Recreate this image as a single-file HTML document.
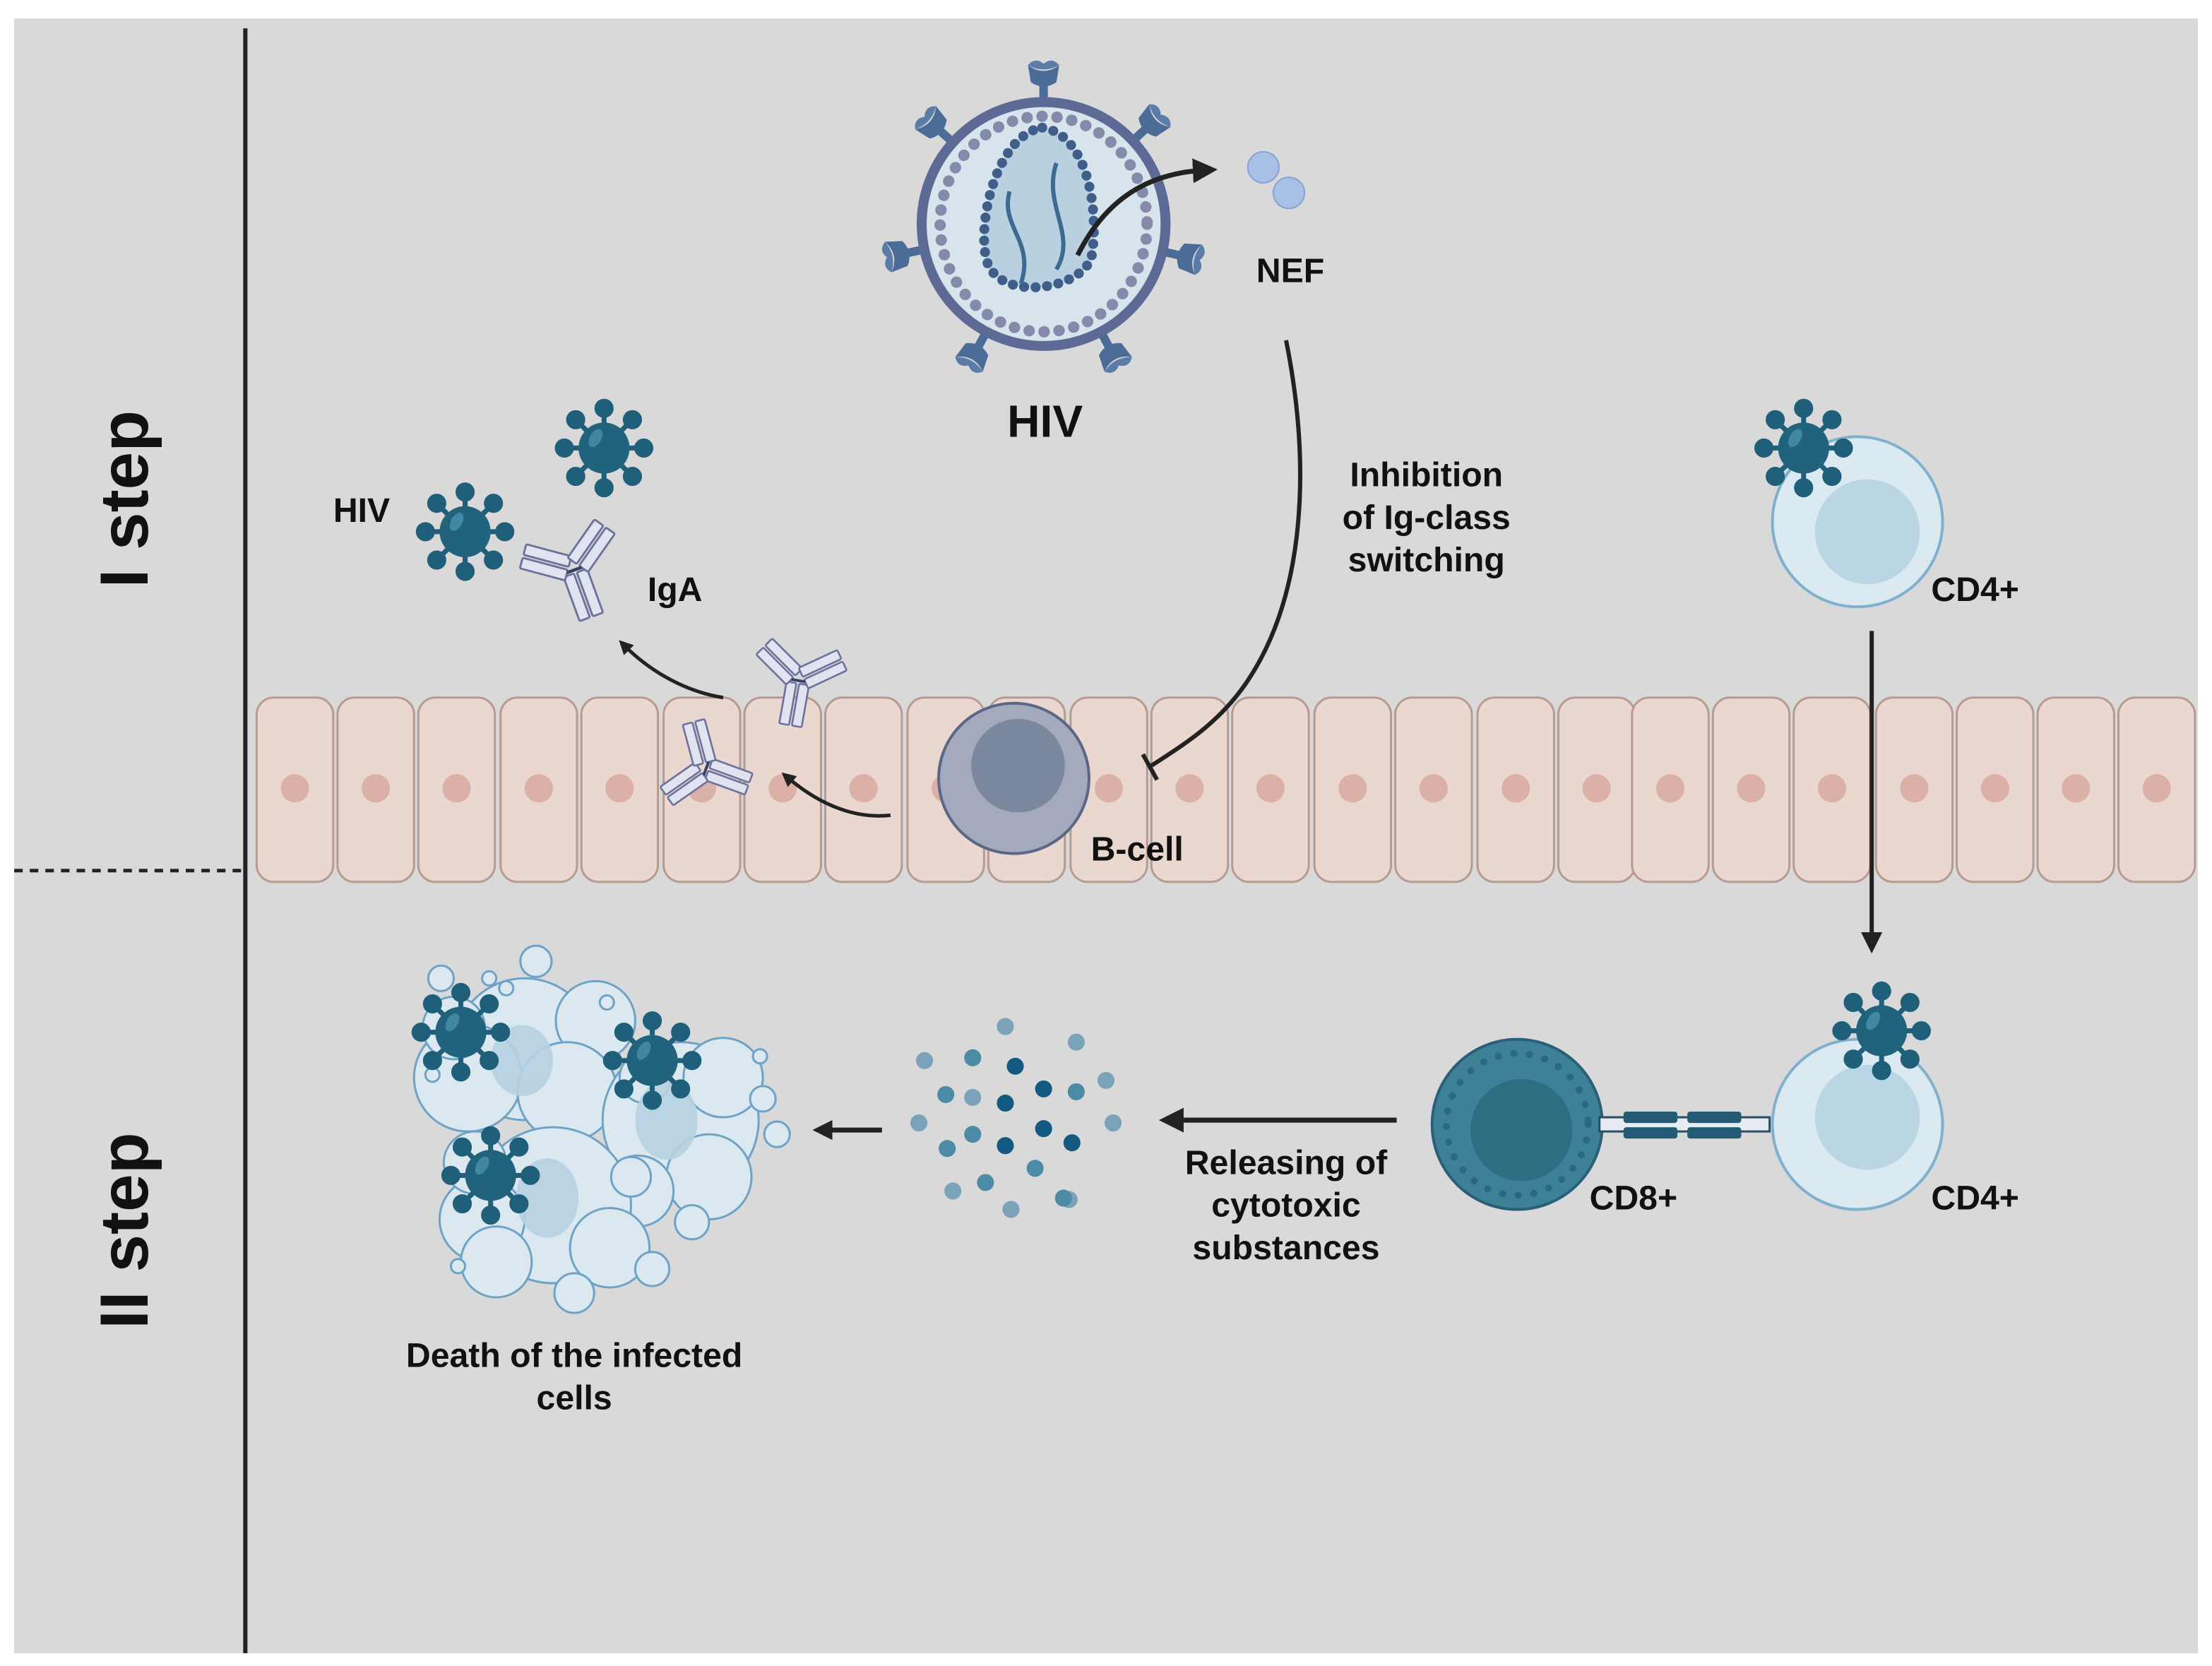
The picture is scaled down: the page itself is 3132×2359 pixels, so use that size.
<!DOCTYPE html>
<html><head><meta charset="utf-8"><style>
html,body{margin:0;padding:0;background:#fff}
svg{display:block}
text{font-family:"Liberation Sans",sans-serif;font-weight:bold;fill:#111}
</style></head><body>
<svg width="3132" height="2359" viewBox="0 0 1560 1175" xmlns="http://www.w3.org/2000/svg">
<defs>
<g id="vir">
 <g stroke="#1f5f7a" stroke-width="3.5" fill="#1f5f7a">
  <line x1="0" y1="0" x2="0" y2="-28"/><circle cx="0" cy="-28" r="5"/>
  <line x1="0" y1="0" x2="20" y2="-20"/><circle cx="20" cy="-20" r="5"/>
  <line x1="0" y1="0" x2="28" y2="0"/><circle cx="28" cy="0" r="5"/>
  <line x1="0" y1="0" x2="20" y2="20"/><circle cx="20" cy="20" r="5"/>
  <line x1="0" y1="0" x2="0" y2="28"/><circle cx="0" cy="28" r="5"/>
  <line x1="0" y1="0" x2="-20" y2="20"/><circle cx="-20" cy="20" r="5"/>
  <line x1="0" y1="0" x2="-28" y2="0"/><circle cx="-28" cy="0" r="5"/>
  <line x1="0" y1="0" x2="-20" y2="-20"/><circle cx="-20" cy="-20" r="5"/>
 </g>
 <circle r="18" fill="#21627d"/>
 <ellipse cx="-6" cy="-7" rx="4" ry="7" fill="#3f87a3" transform="rotate(30 -6 -7)"/>
</g>
<g id="spk">
 <rect x="-3" y="-100" width="6" height="22" fill="#4a6c96"/>
 <path d="M-11,-112 Q0,-104 11,-112 L9,-100 Q0,-94 -9,-100z" fill="#4a6c96"/>
 <path d="M-11,-112 Q-6,-118 0,-113 Q6,-118 11,-112 Q0,-106 -11,-112z" fill="#5a7ca6"/>
</g>
<g id="ab" fill="#e1e4f0" stroke="#6b739c" stroke-width="1.3">
 <rect x="-8" y="2" width="7" height="30" rx="1"/><rect x="1" y="2" width="7" height="30" rx="1"/>
 <g transform="rotate(-55)"><rect x="-8" y="-34" width="7" height="30" rx="1"/><rect x="1" y="-34" width="7" height="30" rx="1"/></g>
 <g transform="rotate(55)"><rect x="-8" y="-34" width="7" height="30" rx="1"/><rect x="1" y="-34" width="7" height="30" rx="1"/></g>
 <line x1="-5" y1="0" x2="5" y2="0" stroke="#3a4060" stroke-width="2"/>
</g>
<g id="cell">
 <rect x="-27" y="0" width="54" height="130" rx="12" fill="#ead7d0" stroke="#b79a90" stroke-width="1.5"/>
 <circle cx="0" cy="64" r="10" fill="#dbb0a6"/>
</g>
<marker id="ah" viewBox="0 0 10 10" refX="5" refY="5" markerWidth="5" markerHeight="5" orient="auto"><path d="M0,0L10,5L0,10z" fill="#222"/></marker>
<marker id="ah2" viewBox="0 0 10 10" refX="5" refY="5" markerWidth="4" markerHeight="4" orient="auto"><path d="M0,0L10,5L0,10z" fill="#222"/></marker>
</defs>
<rect x="10" y="13" width="1540" height="1153" fill="#d9d9d9"/>
<line x1="173" y1="20" x2="173" y2="1166" stroke="#222" stroke-width="3"/>
<line x1="10" y1="614" x2="173" y2="614" stroke="#222" stroke-width="2.5" stroke-dasharray="6,5"/>
<text transform="translate(104,352) rotate(-90)" font-size="48" text-anchor="middle">I step</text>
<text transform="translate(104,868) rotate(-90)" font-size="48" text-anchor="middle">II step</text>

<g>
<use href="#cell" x="208" y="492"/><use href="#cell" x="265" y="492"/><use href="#cell" x="322" y="492"/><use href="#cell" x="380" y="492"/><use href="#cell" x="437" y="492"/><use href="#cell" x="495" y="492"/><use href="#cell" x="552" y="492"/><use href="#cell" x="609" y="492"/><use href="#cell" x="667" y="492"/><use href="#cell" x="724" y="492"/><use href="#cell" x="782" y="492"/><use href="#cell" x="839" y="492"/><use href="#cell" x="896" y="492"/><use href="#cell" x="954" y="492"/><use href="#cell" x="1011" y="492"/><use href="#cell" x="1069" y="492"/><use href="#cell" x="1126" y="492"/><use href="#cell" x="1178" y="492"/><use href="#cell" x="1235" y="492"/><use href="#cell" x="1292" y="492"/><use href="#cell" x="1350" y="492"/><use href="#cell" x="1407" y="492"/><use href="#cell" x="1464" y="492"/><use href="#cell" x="1521" y="492"/>
</g>

<g>
 <g transform="translate(736,158)">
  <use href="#spk" transform="rotate(0)"/>
  <use href="#spk" transform="rotate(-48)"/>
  <use href="#spk" transform="rotate(47)"/>
  <use href="#spk" transform="rotate(-102)"/>
  <use href="#spk" transform="rotate(103)"/>
  <use href="#spk" transform="rotate(-152)"/>
  <use href="#spk" transform="rotate(152)"/>
 </g>
 <ellipse cx="736" cy="158" rx="86" ry="86" fill="#d8e4ec" stroke="#5d6a96" stroke-width="7"/>
 <ellipse cx="736" cy="158" rx="73" ry="76" fill="none" stroke="#8589aa" stroke-width="8" stroke-dasharray="0.1,10.5" stroke-linecap="round"/>
 <path d="M735,90 C768,95 775,150 770,180 C765,205 700,215 695,180 C690,150 705,95 735,90z" fill="#b8d0e0" stroke="#3f5f8a" stroke-width="7" stroke-dasharray="0.1,8" stroke-linecap="round"/>
 <path d="M712,135 C705,160 730,170 720,200" fill="none" stroke="#3d6b90" stroke-width="3"/>
 <path d="M745,115 C735,145 760,165 745,190" fill="none" stroke="#3d6b90" stroke-width="3"/>
</g>
<path d="M760,180 C780,140 810,122 850,120" fill="none" stroke="#222" stroke-width="3.5" marker-end="url(#ah)"/>
<circle cx="891" cy="118" r="11" fill="#a8bfe6" stroke="#8aa2d2"/>
<circle cx="909" cy="136" r="11" fill="#a8bfe6" stroke="#8aa2d2"/>
<text x="910" y="199" font-size="24" text-anchor="middle">NEF</text>
<text x="737" y="308" font-size="32" text-anchor="middle">HIV</text>

<path d="M907,240 C925,330 920,420 880,480 C860,510 835,525 812,540" fill="none" stroke="#222" stroke-width="3"/>
<line x1="806" y1="532" x2="816" y2="550" stroke="#222" stroke-width="3"/>
<text font-size="24" text-anchor="middle"><tspan x="1006" y="343">Inhibition</tspan><tspan x="1006" y="373">of Ig-class</tspan><tspan x="1006" y="403">switching</tspan></text>

<circle cx="715" cy="549" r="53" fill="#a4aabd" stroke="#5c6685" stroke-width="2"/>
<circle cx="718" cy="540" r="33" fill="#7c889e"/>
<text x="802" y="607" font-size="24" text-anchor="middle">B-cell</text>

<path d="M628,575 C600,578 575,565 555,548" fill="none" stroke="#222" stroke-width="2.5" marker-end="url(#ah2)"/>
<path d="M510,492 C485,488 460,475 440,455" fill="none" stroke="#222" stroke-width="2.5" marker-end="url(#ah2)"/>
<use href="#ab" transform="translate(563,480) rotate(10)"/>
<use href="#ab" transform="translate(498,542) rotate(-70)"/>
<use href="#vir" x="328" y="375"/>
<use href="#vir" x="426" y="316"/>
<use href="#ab" transform="translate(405,402) rotate(-20) scale(1.1)"/>
<text x="255" y="368" font-size="24" text-anchor="middle">HIV</text>
<text x="476" y="424" font-size="24" text-anchor="middle">IgA</text>

<circle cx="1310" cy="368" r="60" fill="#dbe9f1" stroke="#7fb1cf" stroke-width="2"/>
<circle cx="1317" cy="375" r="37" fill="#bad5e4"/>
<use href="#vir" x="1272" y="316"/>
<text x="1393" y="424" font-size="24" text-anchor="middle">CD4+</text>
<line x1="1320" y1="445" x2="1320" y2="665" stroke="#222" stroke-width="3" marker-end="url(#ah)"/>

<circle cx="1310" cy="793" r="60" fill="#dbe9f1" stroke="#7fb1cf" stroke-width="2"/>
<circle cx="1317" cy="788" r="37" fill="#bad5e4"/>
<use href="#vir" x="1327" y="727"/>
<text x="1393" y="853" font-size="24" text-anchor="middle">CD4+</text>
<circle cx="1070" cy="793" r="60" fill="#3e8197" stroke="#2a5f78" stroke-width="2"/>
<circle cx="1073" cy="797" r="36" fill="#2e6d82"/>
<circle cx="1070" cy="793" r="50" fill="none" stroke="#2a6a80" stroke-width="5" stroke-dasharray="0.1,11" stroke-linecap="round"/>
<g fill="#e7ecf2" stroke="#2a4d60" stroke-width="1.5">
 <rect x="1128" y="788" width="120" height="10"/>
</g>
<g fill="#245a74">
 <rect x="1145" y="784" width="38" height="8" rx="2"/><rect x="1145" y="795" width="38" height="8" rx="2"/>
 <rect x="1190" y="784" width="38" height="8" rx="2"/><rect x="1190" y="795" width="38" height="8" rx="2"/>
</g>
<text x="1152" y="853" font-size="24" text-anchor="middle">CD8+</text>

<line x1="985" y1="790" x2="826" y2="790" stroke="#222" stroke-width="3.5" marker-end="url(#ah)"/>
<text font-size="24" text-anchor="middle"><tspan x="907" y="828">Releasing of</tspan><tspan x="907" y="858">cytotoxic</tspan><tspan x="907" y="888">substances</tspan></text>

<g fill="#7aa2b8">
<circle cx="709" cy="724" r="6"/><circle cx="759" cy="735" r="6"/><circle cx="652" cy="748" r="6"/><circle cx="780" cy="762" r="6"/><circle cx="648" cy="792" r="6"/><circle cx="785" cy="792" r="6"/><circle cx="672" cy="840" r="6"/><circle cx="713" cy="853" r="6"/><circle cx="686" cy="774" r="6"/><circle cx="754" cy="846" r="6"/>
</g>
<g fill="#4d8aa6">
<circle cx="686" cy="746" r="6"/><circle cx="667" cy="772" r="6"/><circle cx="759" cy="770" r="6"/><circle cx="686" cy="800" r="6"/><circle cx="668" cy="810" r="6"/><circle cx="730" cy="824" r="6"/><circle cx="695" cy="834" r="6"/><circle cx="750" cy="845" r="6"/>
</g>
<g fill="#145a80">
<circle cx="716" cy="752" r="6"/><circle cx="736" cy="768" r="6"/><circle cx="709" cy="778" r="6"/><circle cx="736" cy="796" r="6"/><circle cx="709" cy="808" r="6"/><circle cx="756" cy="806" r="6"/>
</g>
<line x1="622" y1="797" x2="580" y2="797" stroke="#222" stroke-width="3.5" marker-end="url(#ah2)"/>

<g fill="#dbe8f0" stroke="#6fa3c6" stroke-width="1.5">
 <circle cx="370" cy="740" r="50"/><circle cx="330" cy="760" r="38"/><circle cx="420" cy="720" r="28"/><circle cx="400" cy="770" r="35"/>
 <circle cx="480" cy="790" r="55"/><circle cx="510" cy="760" r="28"/><circle cx="500" cy="830" r="30"/><circle cx="450" cy="840" r="25"/>
 <circle cx="390" cy="850" r="55"/><circle cx="340" cy="860" r="30"/><circle cx="350" cy="890" r="25"/><circle cx="430" cy="880" r="28"/>
 <circle cx="320" cy="725" r="22"/><circle cx="335" cy="820" r="22"/>
 <circle cx="311" cy="690" r="9"/><circle cx="345" cy="690" r="5"/><circle cx="357" cy="697" r="5"/><circle cx="378" cy="678" r="11"/><circle cx="428" cy="707" r="5"/>
 <circle cx="548" cy="800" r="9"/><circle cx="538" cy="775" r="9"/><circle cx="536" cy="745" r="5"/><circle cx="305" cy="758" r="5"/>
 <circle cx="405" cy="912" r="14"/><circle cx="488" cy="862" r="12"/><circle cx="323" cy="893" r="5"/><circle cx="460" cy="895" r="12"/><circle cx="455" cy="760" r="18"/><circle cx="445" cy="830" r="14"/>
</g>
<g fill="#b7d1e1" opacity="0.9">
 <ellipse cx="368" cy="748" rx="22" ry="25"/><ellipse cx="470" cy="790" rx="22" ry="28"/><ellipse cx="386" cy="845" rx="22" ry="28"/>
</g>
<use href="#vir" x="325" y="728"/>
<use href="#vir" x="460" y="748"/>
<use href="#vir" x="346" y="829"/>
<text font-size="24" text-anchor="middle"><tspan x="405" y="964">Death of the infected</tspan><tspan x="405" y="994">cells</tspan></text>
</svg>
</body></html>
